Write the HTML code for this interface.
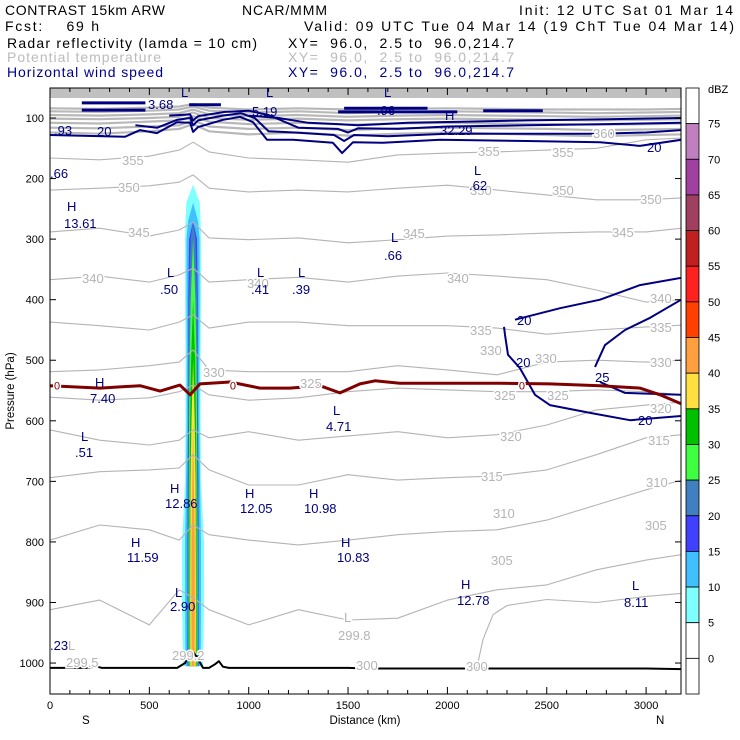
<!DOCTYPE html>
<html><head><meta charset="utf-8"><style>
body{margin:0;background:#fff;}
svg{display:block;font-family:"Liberation Sans",sans-serif;}
.hd{font-size:14px;white-space:pre;}
.lb{font-size:13px;fill:#000080;}
.gl{font-size:13px;fill:#b4b4b4;paint-order:stroke;stroke:#fff;stroke-width:3px;}
.tk{font-size:11px;fill:#000;}
</style></head><body>
<svg id="chart" width="740" height="740" viewBox="0 0 740 740">
<g>
<text class="hd" x="5" y="15" textLength="160" lengthAdjust="spacing">CONTRAST 15km ARW</text>
<text class="hd" x="242" y="15" textLength="85" lengthAdjust="spacing">NCAR/MMM</text>
<text class="hd" x="519" y="15" textLength="214" lengthAdjust="spacing">Init: 12 UTC Sat 01 Mar 14</text>
<text class="hd" x="5" y="31" textLength="94" lengthAdjust="spacing">Fcst:    69 h</text>
<text class="hd" x="304" y="31" textLength="430" lengthAdjust="spacing">Valid: 09 UTC Tue 04 Mar 14 (19 ChT Tue 04 Mar 14)</text>
<text class="hd" x="7" y="48" textLength="250" lengthAdjust="spacing">Radar reflectivity (lamda = 10 cm)</text>
<text class="hd" x="288" y="48" textLength="226" lengthAdjust="spacing">XY=  96.0,  2.5 to  96.0,214.7</text>
<text class="hd" x="7" y="62" fill="#bbbbbb" textLength="154" lengthAdjust="spacing">Potential temperature</text>
<text class="hd" x="288" y="62" fill="#bbbbbb" textLength="226" lengthAdjust="spacing">XY=  96.0,  2.5 to  96.0,214.7</text>
<text class="hd" x="7" y="77" fill="#000090" textLength="156" lengthAdjust="spacing">Horizontal wind speed</text>
<text class="hd" x="288" y="77" fill="#000090" textLength="226" lengthAdjust="spacing">XY=  96.0,  2.5 to  96.0,214.7</text>
</g>
<g id="plot"></g>
<g id="labels">
<text class="gl" x="122" y="165">355</text><text class="gl" x="478" y="156">355</text><text class="gl" x="552" y="157">355</text><text class="gl" x="593" y="138">360</text>
<text class="gl" x="118" y="192">350</text><text class="gl" x="470" y="195">350</text><text class="gl" x="552" y="195">350</text><text class="gl" x="640" y="204">350</text>
<text class="gl" x="128" y="237">345</text><text class="gl" x="403" y="238">345</text><text class="gl" x="612" y="237">345</text>
<text class="gl" x="82" y="283">340</text><text class="gl" x="247" y="288">340</text><text class="gl" x="447" y="283">340</text><text class="gl" x="650" y="303">340</text>
<text class="gl" x="470" y="335">335</text><text class="gl" x="650" y="332">335</text>
<text class="gl" x="203" y="377">330</text><text class="gl" x="480" y="355">330</text><text class="gl" x="535" y="363">330</text><text class="gl" x="650" y="367">330</text>
<text class="gl" x="300" y="388">325</text><text class="gl" x="494" y="400">325</text><text class="gl" x="547" y="400">325</text>
<text class="gl" x="500" y="441">320</text><text class="gl" x="650" y="413">320</text>
<text class="gl" x="481" y="481">315</text><text class="gl" x="648" y="445">315</text>
<text class="gl" x="493" y="518">310</text><text class="gl" x="646" y="487">310</text>
<text class="gl" x="491" y="565">305</text><text class="gl" x="645" y="530">305</text>
<text class="gl" x="356" y="670">300</text><text class="gl" x="466" y="671">300</text>
<text class="gl" x="344" y="622">L</text><text class="gl" x="338" y="640">299.8</text>
<text class="gl" x="68" y="650">L</text><text class="gl" x="66" y="667">299.5</text><text class="gl" x="172" y="660">299.2</text>
<text class="lb" x="148" y="109">3.68</text><text class="lb" x="181" y="97">L</text>
<text class="lb" x="252" y="116">5.19</text><text class="lb" x="266" y="97">L</text>
<text class="lb" x="377" y="115">.96</text><text class="lb" x="384" y="97">L</text>
<text class="lb" x="445" y="120">H</text><text class="lb" x="440" y="135">32.29</text>
<text class="lb" x="54" y="135">.93</text><text class="lb" x="97" y="136">20</text><text class="lb" x="647" y="152">20</text>
<text class="lb" x="474" y="175">L</text><text class="lb" x="469" y="190">.62</text>
<text class="lb" x="50" y="178">.66</text>
<text class="lb" x="67" y="211">H</text><text class="lb" x="64" y="228">13.61</text>
<text class="lb" x="391" y="242">L</text><text class="lb" x="384" y="260">.66</text>
<text class="lb" x="167" y="277">L</text><text class="lb" x="160" y="294">.50</text>
<text class="lb" x="257" y="277">L</text><text class="lb" x="251" y="294">.41</text>
<text class="lb" x="298" y="277">L</text><text class="lb" x="292" y="294">.39</text>
<text class="lb" x="517" y="325">20</text><text class="lb" x="516" y="367">20</text><text class="lb" x="595" y="382">25</text><text class="lb" x="638" y="425">20</text>
<text class="lb" x="95" y="387">H</text><text class="lb" x="90" y="403">7.40</text>
<text class="lb" x="333" y="415">L</text><text class="lb" x="326" y="431">4.71</text>
<text class="lb" x="81" y="441">L</text><text class="lb" x="75" y="457">.51</text>
<text class="lb" x="170" y="493">H</text><text class="lb" x="165" y="508">12.86</text>
<text class="lb" x="245" y="498">H</text><text class="lb" x="240" y="513">12.05</text>
<text class="lb" x="309" y="498">H</text><text class="lb" x="304" y="513">10.98</text>
<text class="lb" x="131" y="547">H</text><text class="lb" x="127" y="562">11.59</text>
<text class="lb" x="341" y="547">H</text><text class="lb" x="337" y="562">10.83</text>
<text class="lb" x="175" y="597">L</text><text class="lb" x="170" y="611">2.90</text>
<text class="lb" x="461" y="589">H</text><text class="lb" x="457" y="605">12.78</text>
<text class="lb" x="632" y="590">L</text><text class="lb" x="624" y="607">8.11</text>
<text class="lb" x="50" y="650">.23</text>
</g>
</svg>
<script>
const NS="http://www.w3.org/2000/svg";
// ---- data ----
const pTicks=[100,200,300,400,500,600,700,800,900,1000];
const xTicks=[0,500,1000,1500,2000,2500,3000];
const thetaXs=[0,250,500,650,720,800,1000,1250,1500,1750,2000,2250,2500,2750,3000,3180];
const thetaLevels=[355,350,345,340,335,330,325,320,315,310,305];
const theta355=[166,169,163,153,140,156,166,169,173,161,158,156,153,150,136,133];
const theta350=[219,216,212,206,194,216,222,219,222,216,211,219,227,235,235,232];
const theta345=[288,282,295,285,272,298,301,298,306,301,295,293,290,288,288,282];
const theta340=[367,361,371,359,348,371,367,363,371,361,356,361,367,384,404,400];
const theta335=[437,443,450,437,425,447,437,437,443,443,443,447,457,450,445,442];
const theta330=[519,516,509,503,483,516,519,519,519,509,516,524,503,500,503,500];
const theta325=[561,566,562,552,541,557,566,562,552,546,549,552,552,549,552,557];
const theta320=[615,632,640,632,615,628,618,632,625,618,628,623,607,582,574,569];
const theta315=[694,684,681,678,656,681,706,706,689,698,694,691,681,656,628,623];
const theta310=[797,772,780,797,772,788,797,805,797,788,783,780,764,739,714,698];
const theta305=[912,896,937,879,892,912,937,912,929,926,896,879,871,846,830,821];
const theta300Xs=[2150,2180,2230,2300,2500,2750,3000,3180];
const theta300=[1005,960,920,905,895,900,890,885];
const upperLevels=[360,365,370,375,380,385,390];
const theta360=[124,126,122,118,110,122,127,124,129,126,124,126,128,130,128,127];
const theta365=[116,117,114,112,104,114,118,116,120,117,116,117,118,120,119,118];
const theta370=[108,109,106,104,97,106,110,108,111,109,108,109,110,111,110,109];
const theta375=[101,102,100,98,91,100,103,101,104,102,101,102,103,104,103,102];
const theta380=[95,96,94,92,86,94,97,95,98,96,95,96,97,98,97,96];
const theta385=[89,90,88,86,81,88,91,89,92,90,89,90,91,92,91,90];
const theta390=[84,85,83,81,77,83,86,84,86,85,84,85,86,86,86,85];
const windKmA=[0,377,453,538,639,705,720,745,871,956,1022,1092,1223,1424,1470,1525,1676,1963,2400,2768,2969,3176];
const windPA=[128,131,120,125,107,108,123,115,103,98,107,136,136,141,158,140,141,136,138,140,146,136];
const windKmB=[430,540,640,705,720,745,870,960,1030,1100,1230,1430,1480,1530,1700,2000,2400,2750,3000,3176];
const windPB=[112,116,103,100,112,104,96,92,100,122,124,128,138,128,130,126,126,126,124,120];
const windKmC=[600,705,720,745,880,1000,1100,1250,1450,1500,1550,1750,2000,2400,2800,3176];
const windPC=[96,94,104,97,90,88,95,116,118,124,117,118,114,112,110,108];
const windKmD=[1000,1150,1300,1450,1550,1800,2100,2400,2800,3176];
const windPD=[96,100,108,110,112,108,106,104,102,100];
const windKmJet1=[160,480]; const windPJet1=[75,75];
const windKmJet2=[160,480]; const windPJet2=[87,87];
const windKmJet3=[700,860]; const windPJet3=[78,78];
const windKmJet4=[1480,1900]; const windPJet4=[84,84];
const windKmJet5=[1450,2050]; const windPJet5=[90,90];
const windKmJet6=[2180,2480]; const windPJet6=[88,88];
const windKmR1=[2340,2567,2768,2969,3176]; const windPR1=[433,414,400,376,364];
const windKmR2=[2285,2290,2305,2365,2441,2516,2718,2919,3176]; const windPR2=[445,458,491,513,557,574,587,599,592];
const windKmR3=[2743,2793,2894,3020,3176]; const windPR3=[511,475,450,430,400];
const windKmR4=[2768,2894,3176]; const windPR4=[536,554,557];
const freezeKm=[0,252,453,554,654,705,755,906,1057,1208,1359,1459,1560,1636,1761,2013,2265,2516,2768,2969,3070,3176];
const freezeP=[542,546,542,551,541,557,539,536,546,546,542,554,539,534,538,538,538,539,542,546,557,572];
const terrainKm=[0,200,230,260,640,680,705,720,740,770,800,830,850,870,900,1500,1600,3000,3176];
const terrainP=[1008,1008,1005,1008,1008,1000,984,982,990,1008,1008,1002,997,1006,1008,1008,1009,1009,1010];
const dbzCenterKm=720;
const dbzP=[210,240,270,300,400,500,600,700,800,900,1005];
const dbzThresholds=[5,10,15,20,25,30,35,40];
const hw5=[0,34,38,40,40,38,38,40,55,55,50];
const hw10=[0,0,25,33,33,32,32,35,40,40,38];
const hw15=[0,0,0,20,24,24,25,27,28,28,28];
const hw20=[0,0,0,12,20,22,22,24,25,25,25];
const hw25=[0,0,0,0,12,17,20,20,22,22,22];
const hw30=[0,0,0,0,0,10,15,17,18,18,18];
const hw35=[0,0,0,0,0,0,8,13,14,15,14];
const hw40=[0,0,0,0,0,0,0,4,8,9,7];
const cbLabels=[75,70,65,60,55,50,45,40,35,30,25,20,15,10,5,0];
const cbColors=["#c080c0","#a040a0","#a04060","#c02020","#ff2020","#ff4000","#ffa040","#ffe040","#00c000","#40ff40","#4080c0","#4040ff","#40c0ff","#80ffff"];
// ---- scales ----
const L=50,R=681,T=88,B=694;
const X=km=>L+km*0.1987;
const Y=p=>118+(p-100)*0.6056;
const plot=document.getElementById('plot');
function mk(tag,attrs,parent){const e=document.createElementNS(NS,tag);for(const k in attrs)e.setAttribute(k,attrs[k]);(parent||plot).appendChild(e);return e;}
function line(xs,ps,color,w,name){
  let d="";for(let i=0;i<xs.length;i++){d+=(i?"L":"M")+X(xs[i]).toFixed(1)+","+Y(Math.max(ps[i],55)).toFixed(1);}
  const e=mk('path',{d:d,fill:'none',stroke:color,'stroke-width':w,'stroke-linejoin':'round'});
  
  
  return e;
}
const clip=mk('clipPath',{id:'pc'});mk('rect',{x:L,y:T,width:R-L,height:B-T},clip);
const g=mk('g',{'clip-path':'url(#pc)'});
function lineG(xs,ps,color,w,name){const e=line(xs,ps,color,w,name);g.appendChild(e);return e;}
// upper gray band
const band=mk('rect',{x:L,y:T,width:R-L,height:10,fill:'#c0c0c0'},g);


const upperSeries=[theta360,theta365,theta370,theta375,theta380,theta385,theta390];
upperSeries.forEach((s,i)=>lineG(thetaXs,s,'#b8b8b8',2.2,'isentrope-'+upperLevels[i]));
// reflectivity
const hwAll=[hw5,hw10,hw15,hw20,hw25,hw30,hw35,hw40];
const dbzColor=[cbColors[13],cbColors[12],cbColors[11],cbColors[10],cbColors[9],cbColors[8],cbColors[7],cbColors[6]];
hwAll.forEach((hw,k)=>{
  const left=[],right=[];
  for(let i=0;i<dbzP.length;i++){
    if(hw[i]>0||(i+1<dbzP.length&&hw[i+1]>0)){
      left.push([X(dbzCenterKm-hw[i]),Y(dbzP[i])]);right.push([X(dbzCenterKm+hw[i]),Y(dbzP[i])]);
    }
  }
  const pts=left.concat(right.reverse()).map(p=>p[0].toFixed(1)+","+p[1].toFixed(1)).join(" ");
  const e=mk('polygon',{points:pts,fill:dbzColor[k],stroke:'none'},g);
  
  
});
// isentropes
const thetaSeries=[theta355,theta350,theta345,theta340,theta335,theta330,theta325,theta320,theta315,theta310,theta305];
thetaSeries.forEach((s,i)=>lineG(thetaXs,s,'#b4b4b4',1.1,'isentrope-'+thetaLevels[i]));
lineG(theta300Xs,theta300,'#b4b4b4',1.1,'isentrope-300');
// wind
const navy='#000080';
lineG(windKmA,windPA,navy,2,'wind-contour-20');
lineG(windKmB,windPB,navy,2,'wind-contour-25');
lineG(windKmC,windPC,navy,2,'wind-contour-30');
lineG(windKmD,windPD,navy,2,'wind-contour-35');
[[windKmJet1,windPJet1],[windKmJet2,windPJet2],[windKmJet3,windPJet3],[windKmJet4,windPJet4],[windKmJet5,windPJet5],[windKmJet6,windPJet6]].forEach((s,i)=>lineG(s[0],s[1],navy,3,'wind-jet-core-'+(i+1)));
lineG(windKmR1,windPR1,navy,2,'wind-contour-20-right-upper');
lineG(windKmR2,windPR2,navy,2,'wind-contour-20-right-lower');
lineG(windKmR3,windPR3,navy,2,'wind-contour-25-right-upper');
lineG(windKmR4,windPR4,navy,2,'wind-contour-25-right-lower');
// freezing line
lineG(freezeKm,freezeP,'#800000',3,'freezing-level-line');
[[20,'fz-label-1'],[905,'fz-label-2'],[2360,'fz-label-3']].forEach(a=>{
  const t=mk('text',{x:X(a[0]),y:Y(548),'font-size':11,fill:'#800000',stroke:'#fff','stroke-width':3,'paint-order':'stroke'},g);t.textContent='0';
  
  
});
// terrain
lineG(terrainKm,terrainP,'#000',2,'terrain-line');
// frame
const fr=mk('rect',{x:L,y:T,width:R-L,height:B-T,fill:'none',stroke:'#000','stroke-width':1});


// y ticks
pTicks.forEach(p=>{
  mk('line',{x1:L,x2:L+6,y1:Y(p),y2:Y(p),stroke:'#000'});
  mk('line',{x1:R-6,x2:R,y1:Y(p),y2:Y(p),stroke:'#000'});
  const t=mk('text',{x:L-6,y:Y(p)+4,'text-anchor':'end',class:'tk'});t.textContent=p;
  
  
});
// x ticks
for(let km=0;km<=3100;km+=100){
  const big=km%500===0;
  mk('line',{x1:X(km),x2:X(km),y1:B,y2:B-(big?7:4),stroke:'#000'});
  mk('line',{x1:X(km),x2:X(km),y1:T,y2:T+(big?7:4),stroke:'#000'});
}
xTicks.forEach(km=>{
  const t=mk('text',{x:X(km),y:B+15,'text-anchor':'middle',class:'tk'});t.textContent=km;
  
  
});
const yt=mk('text',{x:0,y:0,transform:'translate(14,391) rotate(-90)','text-anchor':'middle','font-size':11.5});yt.textContent='Pressure (hPa)';


const xt=mk('text',{x:365,y:724,'text-anchor':'middle','font-size':11.5});xt.textContent='Distance (km)';


const sS=mk('text',{x:82,y:724,'font-size':11.5});sS.textContent='S';


const sN=mk('text',{x:656,y:724,'font-size':11.5});sN.textContent='N';


// colorbar
const cbX=686,cbW=13,cbT=88,cbH=(694-88)/17;
for(let i=0;i<17;i++){
  const c=(i>=1&&i<=14)?cbColors[i-1]:'#fff';
  const r=mk('rect',{x:cbX,y:cbT+i*cbH,width:cbW,height:cbH,fill:c,stroke:'#000','stroke-width':0.8});
  
  
}
cbLabels.forEach((v,i)=>{
  const t=mk('text',{x:708,y:cbT+(i+1)*cbH+4,class:'tk'});t.textContent=v;
  
  
});
const du=mk('text',{x:708,y:93,class:'tk'});du.textContent='dBZ';


document.getElementById('chart').appendChild(document.getElementById('labels'));
</script>
</body></html>
